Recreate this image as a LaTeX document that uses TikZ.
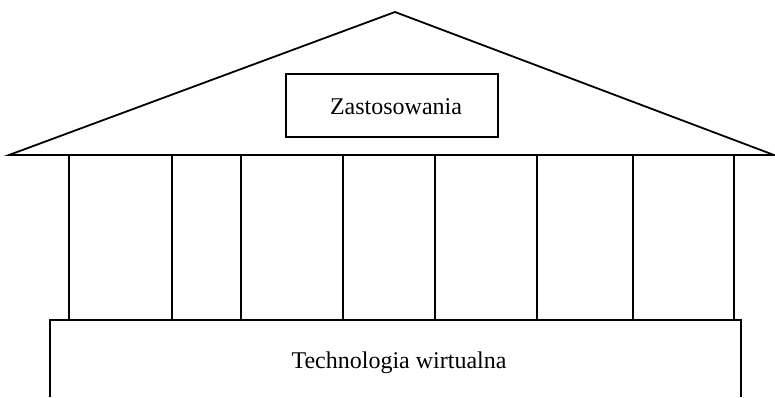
\documentclass[tikz,border=0pt]{standalone}
\usepackage{fontspec}
\setmainfont{Liberation Serif}
\usepackage{tikz}

\begin{document}
\begin{tikzpicture}[x=1pt,y=-1pt,line width=1.8pt,
		schrift/.style={font=\fontsize{24}{28}\selectfont,inner sep=0pt}]
		\useasboundingbox (0,0) rectangle (775,397);

		% Punkte
		\coordinate (spitze) at (395,12);
		\coordinate (links) at (9,155);
		\coordinate (rechts) at (774,155);
		\coordinate (sl) at (50,320);
		\coordinate (sr) at (741,320);

		% Dach
		\draw (links) -- (spitze) -- (rechts) -- cycle;
		\node[draw,minimum width=212pt,minimum height=63pt,inner sep=0pt] (anw) at (392,105.5) {};
		\node[schrift,anchor=base] (anwtext) at (396,114) {Zastosowania};

		% Säulen
		\foreach \x in {69,172,241,343,435,537,633,734}
			\draw (\x,155) -- (\x,320);

		% Sockel
		\draw (sl |- 0,397) -- (sl) -- (sr) -- (sr |- 0,397);
		\node[schrift,anchor=base] (tech) at (399,368) {Technologia wirtualna};
	\end{tikzpicture}
\end{document}
